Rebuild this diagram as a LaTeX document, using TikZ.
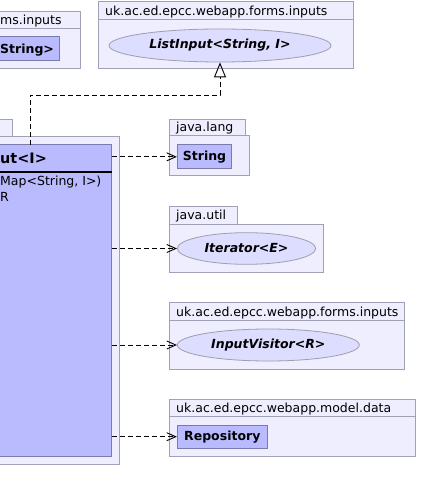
\documentclass[tikz,border=0pt]{standalone}
\usepackage{fontspec}
\setmainfont{DejaVu Sans}
\usetikzlibrary{arrows.meta,shapes.geometric}
\definecolor{pkgfill}{RGB}{238,238,255}
\definecolor{pkgline}{RGB}{160,160,182}
\definecolor{clsfill}{RGB}{186,186,255}
\definecolor{clsline}{RGB}{122,122,172}
\definecolor{ifcfill}{RGB}{221,221,255}
\definecolor{ifcline}{RGB}{158,158,172}
\tikzset{
  pkg/.style={fill=pkgfill,draw=pkgline,line width=1pt},
  pkglbl/.style={anchor=base west,inner sep=0pt,font=\fontsize{12.5}{15}\selectfont},
  clsbox/.style={rectangle,fill=clsfill,draw=clsline,line width=1pt,inner sep=0pt,
    font=\fontsize{12.5}{15}\selectfont\bfseries},
  ifcbox/.style={ellipse,fill=ifcfill,draw=ifcline,line width=0.8pt,inner sep=0pt,
    font=\fontsize{12.5}{15}\selectfont\bfseries\itshape},
  attr/.style={anchor=base west,inner sep=0pt,font=\fontsize{12.5}{15}\selectfont},
  depend/.style={line width=0.9pt,dash pattern=on 5pt off 3pt,
    -{Straight Barb[length=9pt,width=8pt]}},
  realize/.style={line width=0.9pt,dash pattern=on 5pt off 3pt,
    -{Triangle[open,length=15pt,width=12pt]}},
}
\begin{document}
\begin{tikzpicture}[x=1pt,y=-1pt]
  \useasboundingbox (0,0) rectangle (425,502);
  \clip (0,0) rectangle (425,502);
  % packages
  \filldraw[pkg] (-10,12) rectangle (80.5,29);
  \filldraw[pkg] (-10,29) rectangle (80.5,69);
  \node[pkglbl] (leftlbl) at (0,24.7) {ms.inputs};
  \filldraw[pkg] (98,2) rectangle (353,20);
  \filldraw[pkg] (98,20) rectangle (353,69);
  \node[pkglbl] (topinlbl) at (105,15.7) {uk.ac.ed.epcc.webapp.forms.inputs};
  \filldraw[pkg] (-10,119.3) rectangle (12.3,136.7);
  \filldraw[pkg] (-10,136.7) rectangle (119.3,464.3);
  \filldraw[pkg] (169.3,119.3) rectangle (245.7,136);
  \filldraw[pkg] (169.3,136) rectangle (249.7,176);
  \node[pkglbl] (langlbl) at (176,132) {java.lang};
  \filldraw[pkg] (169.3,206.7) rectangle (237.7,224.3);
  \filldraw[pkg] (169.3,224.3) rectangle (323.3,272.3);
  \node[pkglbl] (utillbl) at (176,220) {java.util};
  \filldraw[pkg] (169.3,302.7) rectangle (404,320.7);
  \filldraw[pkg] (169.3,320.7) rectangle (404,369);
  \node[pkglbl] (formslbl) at (176,316.2) {uk.ac.ed.epcc.webapp.forms.inputs};
  \filldraw[pkg] (169.3,399.3) rectangle (415.7,416.7);
  \filldraw[pkg] (169.3,416.7) rectangle (415.7,456);
  \node[pkglbl] (datalbl) at (176,412.4) {uk.ac.ed.epcc.webapp.model.data};
  % classes
  \node[clsbox,minimum width=89.3pt,minimum height=24pt] (liststr) at (15,49) {};
  \node[attr,font=\fontsize{12.5}{15}\selectfont\bfseries] (liststrname) at (0,53.3) {String>};
  \node[ifcbox,minimum width=222pt,minimum height=33pt] (listinput) at (220,45.5) {ListInput<String, I>};
  \node[clsbox,minimum width=151.7pt,minimum height=311.3pt] (input) at (35.85,300.65) {};
  \draw[line width=2pt] (input.west |- 0,171.7) -- (input.east |- 0,171.7);
  \node[attr,font=\fontsize{14.4}{17}\selectfont\bfseries] (inputname) at (0,163.3) {ut<I>};
  \node[attr] (attrone) at (0,185.5) {Map<String, I>)};
  \node[attr] (attrtwo) at (0,201.7) {R};
  \node[clsbox,minimum width=54.4pt,minimum height=23.7pt] (string) at (204.5,156.85) {String};
  \node[ifcbox,minimum width=138.4pt,minimum height=31.6pt] (iterator) at (246.5,248.5) {Iterator<E>};
  \node[ifcbox,minimum width=182pt,minimum height=32pt] (visitor) at (268.3,345) {InputVisitor<R>};
  \node[clsbox,minimum width=90pt,minimum height=23.3pt] (repository) at (222.3,436.7) {Repository};
  % relations
  \coordinate (inputtop) at (30,145);
  \draw[realize] (inputtop) -- ++(0,-50) -| (listinput.south);
  \draw[depend] (input.east |- string.west) -- (string.west);
  \draw[depend] (input.east |- iterator.west) -- (iterator.west);
  \draw[depend] (input.east |- visitor.west) -- (visitor.west);
  \draw[depend] (input.east |- repository.west) -- (repository.west);
\end{tikzpicture}
\end{document}
